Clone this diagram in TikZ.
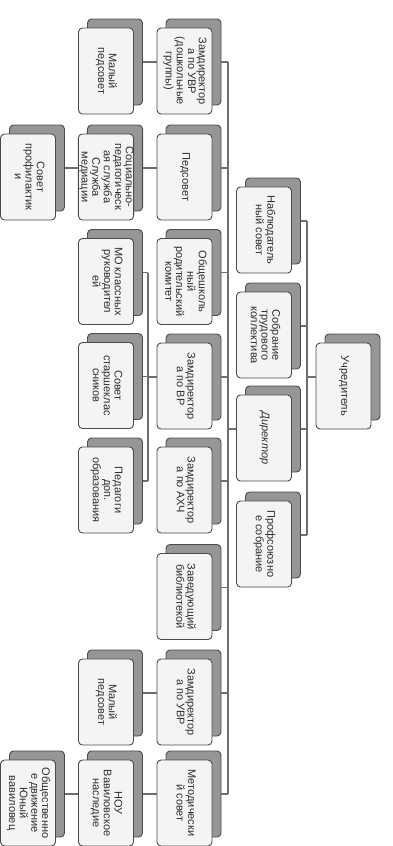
\documentclass[tikz,border=0pt]{standalone}
\usepackage{fontspec}
\setmainfont{Liberation Sans}
\usetikzlibrary{shadows}
\definecolor{boxfill}{HTML}{F4F4F4}
\definecolor{boxline}{HTML}{4A4A4A}
\definecolor{shadecol}{HTML}{969696}
\definecolor{conncol}{HTML}{6E6E6E}
\definecolor{txt}{HTML}{2E2E2E}
\newcommand{\rtxt}[1]{\rotatebox{-90}{\begin{tabular}{@{}c@{}}#1\end{tabular}}}
\begin{document}
\begin{tikzpicture}[x=1pt,y=-1pt,
 orgbox/.style={draw=boxline, fill=boxfill, rounded corners=4pt, minimum width=55pt, minimum height=86pt, inner sep=0pt, line width=0.9pt, text=txt, font=\fontsize{11}{10.8}\selectfont, copy shadow={shadow xshift=9pt, shadow yshift=9pt, fill=shadecol, draw=boxline, line width=0.9pt}},
 conn/.style={draw=conncol, line width=1.6pt}]
\useasboundingbox (0,0) rectangle (393,846);
\fill[white] (0,0) rectangle (393,846);
% column A
\node[orgbox] (U) at (343.5,386) {\rtxt{Учредитель}};
% column B
\node[orgbox] (N) at (264,230) {\rtxt{Наблюдатель\\ный совет}};
\node[orgbox] (S) at (264,335) {\rtxt{Собрание\\трудового\\коллектива}};
\node[orgbox] (dir) at (264,438) {\rtxt{\textit{Директор}}};
\node[orgbox] (P) at (264,544) {\rtxt{Профсоюзно\\е собрание}};
% column C
\node[orgbox] (C1) at (184.5,71) {\rtxt{Замдиректор\\а по УВР\\(дошкольные\\группы)}};
\node[orgbox] (C2) at (184.5,177) {\rtxt{Педсовет}};
\node[orgbox] (C3) at (184.5,281.5) {\rtxt{Общешколь\\ный\\родительский\\комитет}};
\node[orgbox] (C4) at (184.5,386) {\rtxt{Замдиректор\\а по ВР}};
\node[orgbox] (C5) at (184.5,490) {\rtxt{Замдиректор\\а по АХЧ}};
\node[orgbox] (C6) at (184.5,596.5) {\rtxt{Заведующий\\библиотекой}};
\node[orgbox] (C7) at (184.5,702) {\rtxt{Замдиректор\\а по УВР}};
\node[orgbox] (C8) at (184.5,803) {\rtxt{Методически\\й совет}};
% column D
\node[orgbox] (D1) at (106,71) {\rtxt{Малый\\педсовет}};
\node[orgbox] (D2) at (106,177) {\rtxt{Социально-\\педагогическ\\ая служба\\Служба\\медиации}};
\node[orgbox] (D3) at (106,281.5) {\rtxt{МО классных\\руководител\\ей}};
\node[orgbox] (D4) at (106,385.5) {\rtxt{Совет\\старшеклас\\сников}};
\node[orgbox] (D5) at (106,490) {\rtxt{Педагоги\\доп.\\образования}};
\node[orgbox] (D7) at (106,702) {\rtxt{Малый\\педсовет}};
\node[orgbox] (D8) at (106,803) {\rtxt{НОУ\\Вавиловское\\наследие}};
% column E
\node[orgbox] (E2) at (28,177) {\rtxt{Совет\\профилактик\\и}};
\node[orgbox] (E8) at (28,803) {\rtxt{Общественно\\е движение\\Юный\\вавиловец}};
% buses
\coordinate (bB) at (307,0);
\coordinate (bC) at (228,0);
\coordinate (bD) at (148,0);
% shadow-east anchors
\foreach \n in {N,S,dir,P,C1,C2,C3,C4,C5,C6,C7,C8,D1,D2,D3,D4,D5,D7,D8,E2,E8}{
  \coordinate (\n SE) at ([xshift=9pt,yshift=9pt]\n.east);
  \coordinate (\n SW) at ([yshift=9pt]\n.west);
}
\coordinate (USW) at ([yshift=9pt]U.west);
% Учредитель -> B
\draw[conn] (USW) -- (USW -| bB);
\draw[conn] (NSE -| bB) -- (PSE -| bB);
\foreach \n in {N,S,dir,P}{ \draw[conn] (\n SE) -- (\n SE -| bB); }
% Директор -> C
\draw[conn] (dirSW) -- (dirSW -| bC);
\draw[conn] (C1SE -| bC) -- (C8SE -| bC);
\foreach \n in {C1,C2,C3,C4,C5,C6,C7,C8}{ \draw[conn] (\n SE) -- (\n SE -| bC); }
% C -> D direct links
\draw[conn] (C1SW) -- (D1SE);
\draw[conn] (C2SW) -- (D2SE);
\draw[conn] (C7SW) -- (D7SE);
\draw[conn] (C8SW) -- (D8SE);
% ВР -> D bus
\draw[conn] (C4SW) -- (C4SW -| bD);
\draw[conn] (D3SE -| bD) -- (D5SE -| bD);
\foreach \n in {D3,D4,D5}{ \draw[conn] (\n SE) -- (\n SE -| bD); }
% D -> E
\draw[conn] (D2SW) -- (E2SE);
\draw[conn] (D8SW) -- (E8SE);
\end{tikzpicture}
\end{document}
